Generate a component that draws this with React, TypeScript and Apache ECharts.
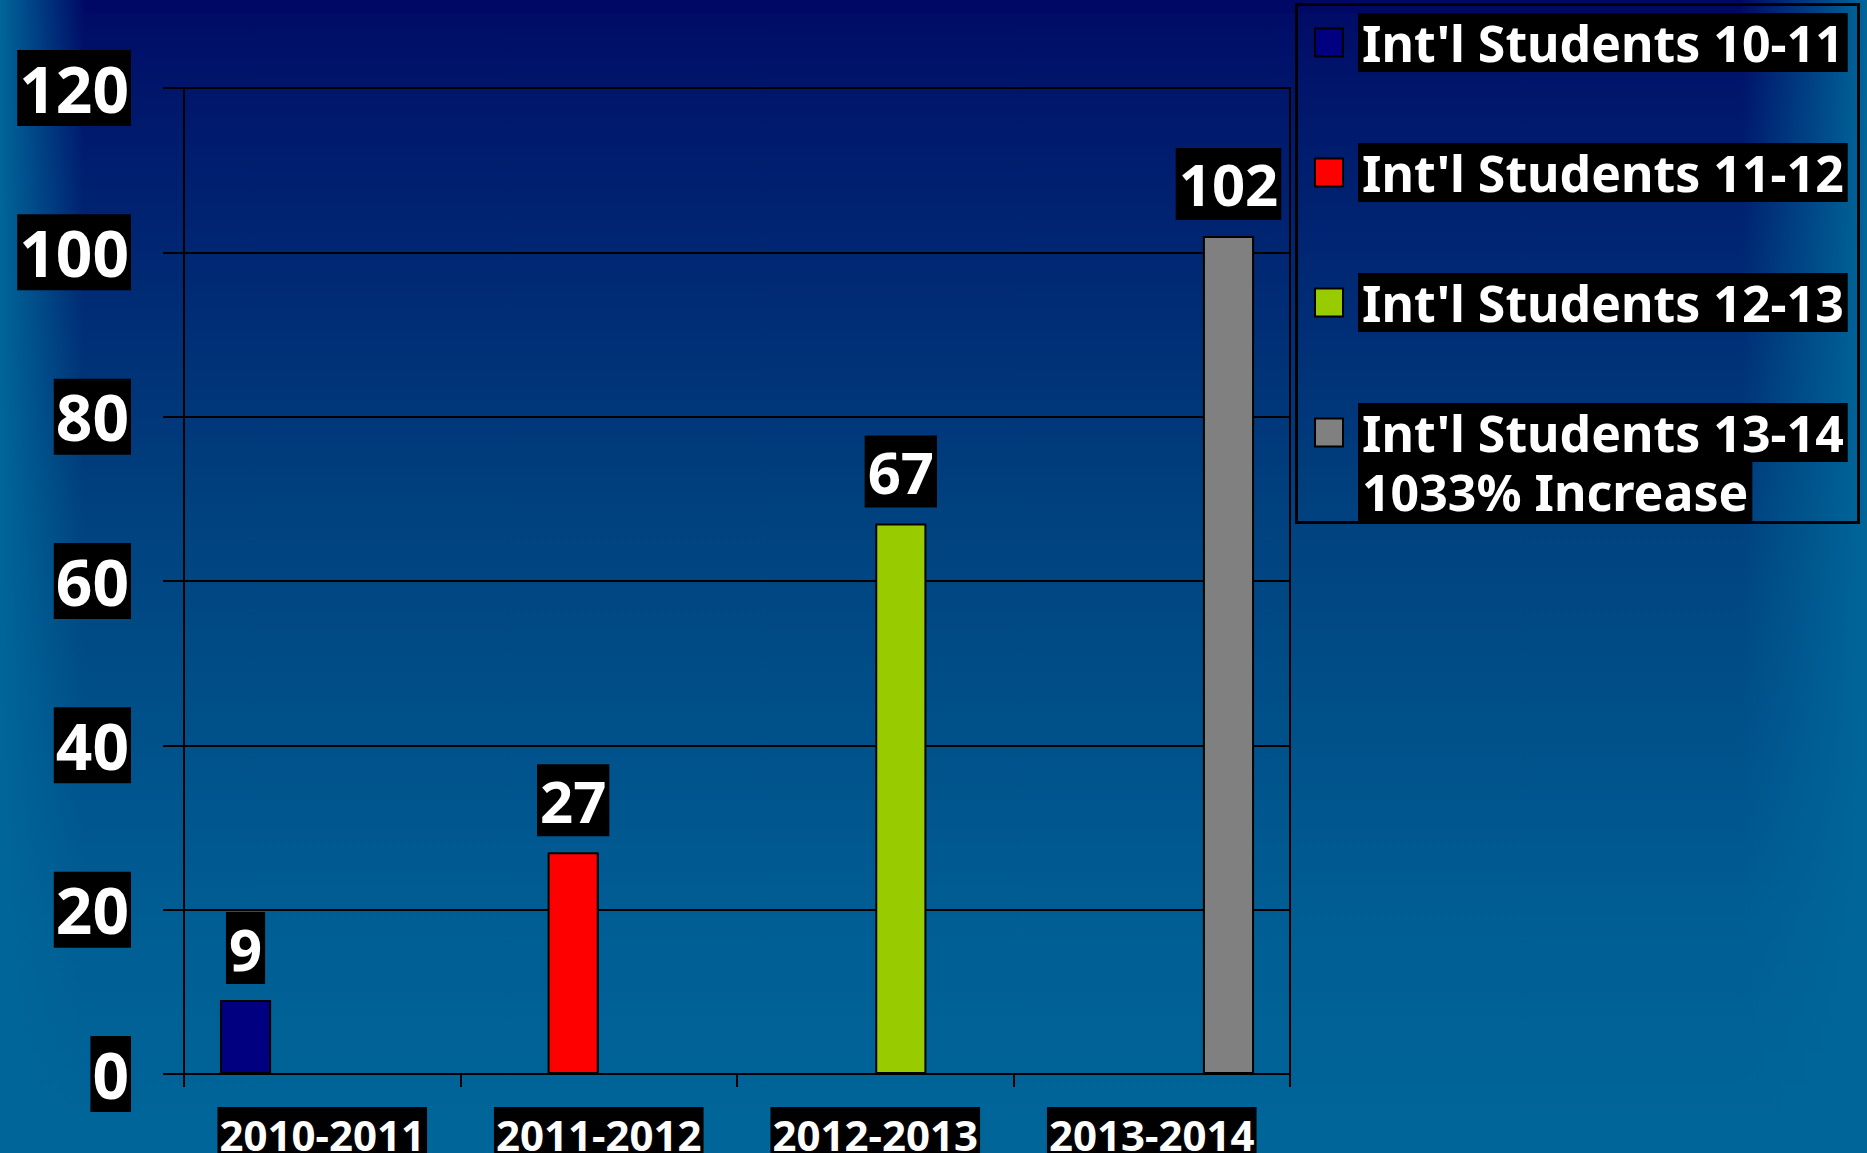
import React, { useEffect, useRef } from 'react';
import * as echarts from 'echarts';

// ---- data ----
const categories = ['2010-2011', '2011-2012', '2012-2013', '2013-2014'];
const seriesNames = [
  "Int'l Students 10-11",
  "Int'l Students 11-12",
  "Int'l Students 12-13",
  "Int'l Students 13-14",
];
const legendNote = '1033% Increase';
const students1011 = [9, null, null, null];
const students1112 = [null, 27, null, null];
const students1213 = [null, null, 67, null];
const students1314 = [null, null, null, 102];
const seriesData = [students1011, students1112, students1213, students1314];
const seriesColors = ['#000080', '#ff0000', '#99cc00', '#808080'];
const yMin = 0;
const yMax = 120;
const yInterval = 20;

const W = 1867;
const H = 1153;
const FONT = "'Noto Sans', 'Open Sans', sans-serif";

export default function App() {
  const ref = useRef<HTMLDivElement>(null);

  useEffect(() => {
    document.body.style.margin = '0';
    if (!ref.current) return;
    const chart = echarts.init(ref.current, undefined, { renderer: 'svg' });

    const option: any = {
      animation: false,
      graphic: [
        {
          type: 'rect',
          z: -10,
          silent: true,
          shape: { x: 0, y: 0, width: W, height: H },
          style: {
            fill: new echarts.graphic.LinearGradient(0, 0, 0, 1, [
              { offset: 0, color: '#000a66' },
              { offset: 0.08, color: '#00166b' },
              { offset: 0.45, color: '#00427f' },
              { offset: 0.8, color: '#005e94' },
              { offset: 1, color: '#006699' },
            ]),
          },
        },
        {
          type: 'rect',
          z: -9,
          silent: true,
          shape: { x: 83, y: 0, width: 1742 - 83, height: 13 },
          style: { fill: '#000866' },
        },
        {
          type: 'rect',
          z: -8,
          silent: true,
          shape: { x: 0, y: 0, width: 84, height: H },
          style: {
            fill: new echarts.graphic.LinearGradient(0, 0, 1, 0, [
              { offset: 0, color: 'rgba(0,102,153,1)' },
              { offset: 1, color: 'rgba(0,102,153,0)' },
            ]),
          },
        },
        {
          type: 'rect',
          z: -8,
          silent: true,
          shape: { x: 1742, y: 0, width: W - 1742, height: H },
          style: {
            fill: new echarts.graphic.LinearGradient(0, 0, 1, 0, [
              { offset: 0, color: 'rgba(0,102,153,0)' },
              { offset: 1, color: 'rgba(0,102,153,1)' },
            ]),
          },
        },
        {
          type: 'rect',
          z: 10,
          silent: true,
          shape: { x: 1296.5, y: 4.5, width: 562, height: 518 },
          style: { fill: 'none', stroke: '#000', lineWidth: 3 },
        },
      ],
      grid: {
        left: 184,
        right: W - 1290,
        top: 88,
        bottom: H - 1074,
        outerBoundsMode: 'none',
        containLabel: false,
        show: true,
        borderColor: '#000',
        borderWidth: 2,
        backgroundColor: 'transparent',
      },
      legend: {
        orient: 'vertical',
        left: 1314,
        top: 13,
        padding: 0,
        itemGap: 71,
        itemWidth: 28,
        itemHeight: 28,
        icon: 'rect',
        itemStyle: { borderColor: '#000', borderWidth: 2 },
        textStyle: {
          color: '#fff',
          fontFamily: FONT,
          fontWeight: 'bold',
          fontSize: 50,
          padding: [0, 0, 0, 10],
          rich: {
            a: {
              color: '#fff',
              fontFamily: FONT,
              fontWeight: 'bold',
              fontSize: 50,
              backgroundColor: '#000',
              padding: [5, 4, 4, 4],
            },
          },
        },
        formatter: (name: string) =>
          name === seriesNames[3] ? `{a|${name}}\n{a|${legendNote}}` : `{a|${name}}`,
        data: seriesNames.map((n, i) =>
          i === 3 ? { name: n, textStyle: { padding: [59, 0, 0, 10] } } : { name: n }
        ),
      },
      xAxis: {
        type: 'category',
        data: categories,
        axisLine: { show: true, lineStyle: { color: '#000', width: 2 } },
        axisTick: { show: true, length: 13, lineStyle: { color: '#000', width: 2 } },
        axisLabel: {
          interval: 0,
          margin: 33,
          color: '#fff',
          fontFamily: FONT,
          fontWeight: 'bold',
          fontSize: 42,
          backgroundColor: '#000',
          padding: [6, 2, 6, 2],
        },
        splitLine: { show: false },
      },
      yAxis: {
        type: 'value',
        min: yMin,
        max: yMax,
        interval: yInterval,
        axisLine: { show: true, lineStyle: { color: '#000', width: 2 } },
        axisTick: { show: true, length: 21, lineStyle: { color: '#000', width: 2 } },
        axisLabel: {
          margin: 53,
          color: '#fff',
          fontFamily: FONT,
          fontWeight: 'bold',
          fontSize: 64,
          backgroundColor: '#000',
          padding: [6, 2, 6, 2],
        },
        splitLine: { show: true, lineStyle: { color: '#000', width: 2 } },
      },
      series: seriesNames.map((name, i) => ({
        name,
        type: 'bar',
        data: seriesData[i],
        barGap: '0%',
        barCategoryGap: '26%',
        itemStyle: { color: seriesColors[i], borderColor: '#000', borderWidth: 2 },
        label: {
          show: true,
          position: 'top',
          distance: 16,
          color: '#fff',
          fontFamily: FONT,
          fontWeight: 'bold',
          fontSize: 58,
          backgroundColor: '#000',
          padding: [7, 3, 7, 3],
        },
      })),
    };

    chart.setOption(option);
    return () => chart.dispose();
  }, []);

  return <div ref={ref} style={{ width: W, height: H }} />;
}
